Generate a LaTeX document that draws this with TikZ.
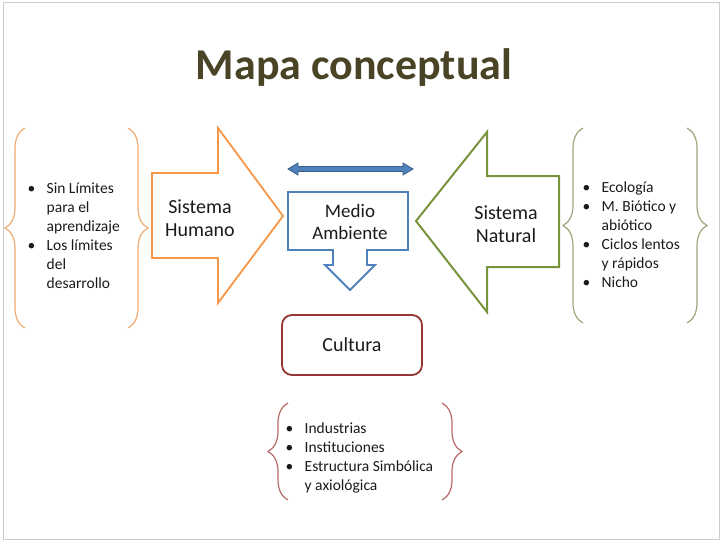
\documentclass[tikz,border=0pt]{standalone}
\usepackage{fontspec}
\setmainfont{Carlito}
\usetikzlibrary{decorations.pathreplacing}
\definecolor{titulo}{HTML}{4A4427}
\definecolor{naranja}{HTML}{F79646}
\definecolor{verde}{HTML}{77933C}
\definecolor{azul}{HTML}{4F81BD}
\definecolor{azuloscuro}{HTML}{385D8A}
\definecolor{rojo}{HTML}{943634}
\definecolor{llaveN}{HTML}{EDAA72}
\definecolor{llaveV}{HTML}{9AA77C}
\definecolor{llaveR}{HTML}{B66A68}
\definecolor{texto}{HTML}{1A1A1A}
\newcommand{\bit}{\makebox[19pt][l]{\textbullet}}
\newcommand{\cont}{\hspace*{19pt}}

\begin{document}
\begin{tikzpicture}[x=1pt,y=-1pt,
    llave/.style={decorate,decoration={brace,amplitude=20pt},line width=1.2pt},
    lista/.style={anchor=base west,inner sep=0pt,align=left,text=texto,
      font=\fontsize{15.5}{19}\selectfont},
    caja/.style={inner sep=0pt,align=center,text=texto,
      font=\fontsize{20}{22.5}\selectfont}]
  \useasboundingbox (0,0) rectangle (722,542);
  % Slide frame
  \draw[black!20,line width=1pt] (3,2) rectangle (719,539);

  % Title
  \node[anchor=base,text=titulo,font=\fontsize{44}{50}\selectfont\bfseries]
    (title) at (354,79) {Mapa conceptual};

  % Sistema Humano
  \draw[naranja,line width=1.8pt,line join=miter] (152,173) -- (218,173) -- (218,128)
    -- (283,216) -- (218,303) -- (218,258) -- (152,258) -- cycle;
  \node[caja] (humano) at (200,218) {Sistema\\Humano};

  % Sistema Natural
  \draw[verde,line width=2pt] (416,221) -- (487,132) -- (487,176) -- (559,176)
    -- (559,267) -- (487,267) -- (487,312) -- cycle;
  \node[caja] (natural) at (506,224) {Sistema\\Natural};

  % Medio Ambiente
  \fill[azul,draw=azuloscuro,line width=0.8pt] (288,169) -- (298,163) -- (298,166.5)
    -- (403,166.5) -- (403,163) -- (413,169) -- (403,175) -- (403,171.5)
    -- (298,171.5) -- (298,175) -- cycle;
  \draw[azul,line width=1.8pt] (288,192) -- (408,192) -- (408,250) -- (367,250)
    -- (367,265) -- (375,265) -- (350,290) -- (325,265) -- (333,265)
    -- (333,250) -- (288,250) -- cycle;
  \node[caja,font=\fontsize{19}{22.5}\selectfont] (medio) at (350,222) {Medio\\Ambiente};

  % Cultura
  \draw[rojo,line width=1.8pt,rounded corners=10pt] (282,315) rectangle (422,375);
  \node[caja] (cultura) at (352,345) {Cultura};

  % Lists (base = last line)
  \node[lista] (listL) at (27.5,288)
    {\bit Sin Límites\\\cont para el\\\cont aprendizaje\\\bit Los límites\\\cont del\\\cont desarrollo};
  \node[lista] (listR) at (582.5,287)
    {\bit Ecología\\\bit M. Biótico y\\\cont abiótico\\\bit Ciclos lentos\\\cont y rápidos\\\bit Nicho};
  \node[lista] (listB) at (285.5,490)
    {\bit Industrias\\\bit Instituciones\\\bit Estructura Simbólica\\\cont y axiológica};

  % Braces
  \draw[llave,llaveN] (25,328) -- (25,128);
  \draw[llave,llaveN] (128,128) -- (128,328);
  \draw[llave,llaveV] (583,323) -- (583,128);
  \draw[llave,llaveV] (687,128) -- (687,323);
  \draw[llave,llaveR] (288,500) -- (288,403);
  \draw[llave,llaveR] (442,403) -- (442,500);
\end{tikzpicture}
\end{document}
